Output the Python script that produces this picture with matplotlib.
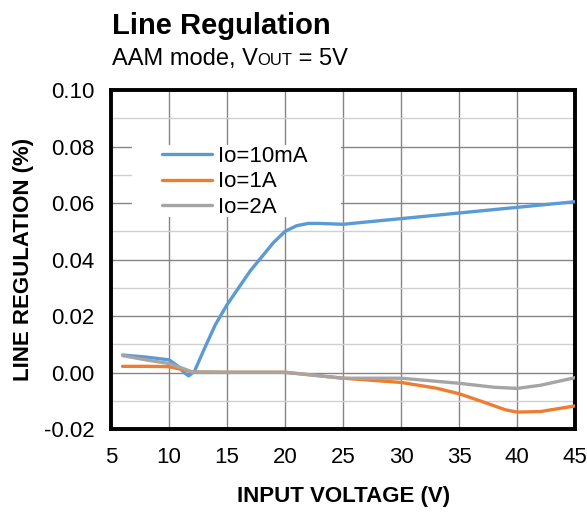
import matplotlib
matplotlib.use('Agg')
import matplotlib.pyplot as plt
from matplotlib.ticker import MultipleLocator
from matplotlib.patches import Rectangle

plt.rcParams['font.family'] = ['Liberation Sans', 'DejaVu Sans']

# Data
v_10ma = [6, 8, 10, 10.7, 11.3, 11.7, 12.2, 13, 14, 15, 16, 17, 18, 19, 20, 21, 22, 23, 25, 30, 35, 40, 45]
reg_10ma = [0.0062, 0.0055, 0.0045, 0.0025, 0.0, -0.0012, 0.0005, 0.008, 0.017, 0.024, 0.030, 0.036, 0.041, 0.046, 0.0500, 0.0520, 0.0528, 0.0528, 0.0525, 0.0545, 0.0565, 0.0585, 0.0605]

v_1a = [6, 8, 10, 11, 12, 15, 20, 25, 30, 33, 35, 37, 39, 40, 42, 45]
reg_1a = [0.0022, 0.0022, 0.0021, 0.0012, 0.0002, 0.0001, 0.0001, -0.0020, -0.0035, -0.0055, -0.0075, -0.0103, -0.0132, -0.0140, -0.0138, -0.0118]

v_2a = [6, 8, 10, 11, 12, 15, 20, 25, 28, 30, 35, 38, 40, 42, 45]
reg_2a = [0.0060, 0.0045, 0.0032, 0.0018, 0.0002, 0.0001, 0.0001, -0.0020, -0.0020, -0.0020, -0.0038, -0.0052, -0.0056, -0.0045, -0.0018]

BLUE = '#5B9BD5'
ORANGE = '#ED7D31'
GREY = '#A5A5A5'

fig = plt.figure(figsize=(5.87, 5.12), dpi=100)
ax = fig.add_axes([0.189, 0.162, 0.791, 0.662])

ax.plot(v_10ma, reg_10ma, color=BLUE, lw=2.4, label='Io=10mA', solid_capstyle='round', solid_joinstyle='round', zorder=3)
ax.plot(v_1a, reg_1a, color=ORANGE, lw=2.4, label='Io=1A', solid_capstyle='round', solid_joinstyle='round', zorder=3)
ax.plot(v_2a, reg_2a, color=GREY, lw=2.4, label='Io=2A', solid_capstyle='round', solid_joinstyle='round', zorder=3)

ax.set_xlim(5, 45)
ax.set_ylim(-0.02, 0.10)
ax.xaxis.set_major_locator(MultipleLocator(5))
ax.yaxis.set_major_locator(MultipleLocator(0.02))
ax.yaxis.set_minor_locator(MultipleLocator(0.01))
ax.yaxis.set_major_formatter(plt.FuncFormatter(lambda v, p: f'{v:.2f}'))

ax.grid(which='major', axis='both', color='#858585', lw=1.0)
ax.grid(which='minor', axis='y', color='#D0D0D0', lw=1.0)
ax.set_axisbelow(True)
ax.tick_params(which='both', length=0, labelsize=16, colors='black')
ax.tick_params(axis='x', pad=13)
ax.tick_params(axis='y', pad=12)

for s in ax.spines.values():
    s.set_linewidth(2.8)
    s.set_color('black')

ax.set_xlabel('INPUT VOLTAGE (V)', fontsize=16, fontweight='bold', labelpad=13)
ax.set_ylabel('LINE REGULATION (%)', fontsize=16, fontweight='bold', labelpad=7)

# white legend area (hides the grid behind the legend)
ax.add_patch(Rectangle((0.045, 0.625), 0.45, 0.213, transform=ax.transAxes,
                       facecolor='white', edgecolor='none', zorder=1))
leg = ax.legend(loc='upper left', bbox_to_anchor=(0.111, 0.835), frameon=False,
                fontsize=16, handlelength=2.25, handletextpad=0.25, labelspacing=0.2,
                borderpad=0, borderaxespad=0)

# Title and subtitle
fig.text(0.190, 0.934, 'Line Regulation', fontsize=21, fontweight='bold', va='baseline', ha='left')
t1 = fig.text(0.190, 0.873, 'AAM mode, V', fontsize=17, va='baseline', ha='left')
fig.canvas.draw()
r = fig.canvas.get_renderer()
x1 = fig.transFigure.inverted().transform((t1.get_window_extent(r).x1, 0))[0]
t2 = fig.text(x1, 0.873, 'OUT', fontsize=12, va='baseline', ha='left')
x2 = fig.transFigure.inverted().transform((t2.get_window_extent(r).x1, 0))[0]
fig.text(x2, 0.873, ' = 5V', fontsize=17, va='baseline', ha='left')

fig.savefig('out.png', dpi=100)
